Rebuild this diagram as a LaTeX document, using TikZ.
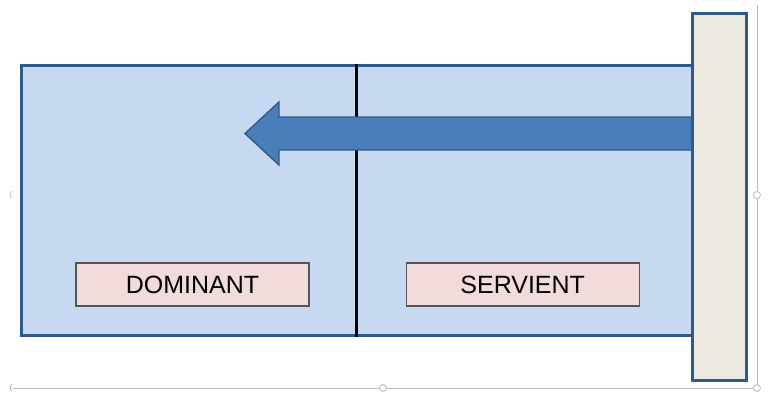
\documentclass[tikz,border=0pt]{standalone}
\usepackage{fontspec}
\setmainfont{Liberation Sans}
\usepackage{xcolor}
\usetikzlibrary{positioning}
\definecolor{bleuclair}{HTML}{C6D9F0}
\definecolor{bleubord}{HTML}{2F5A8C}
\definecolor{bleufleche}{HTML}{4A7EBB}
\definecolor{beige}{HTML}{ECE9E0}
\definecolor{rose}{HTML}{F2DCDB}
\definecolor{grisbord}{HTML}{555555}
\definecolor{poignee}{HTML}{BBBBBB}

\begin{document}
\begin{tikzpicture} [x=1pt, y=-1pt,
            fond/.style={rectangle, draw=bleubord, fill=bleuclair, line width=3pt, minimum width=671pt, minimum height=270pt},
            mur/.style={rectangle, draw=bleubord, fill=beige, line width=3pt, minimum width=54pt, minimum height=367pt},
            etiq/.style={rectangle, draw=grisbord, fill=rose, line width=1.2pt, minimum width=233pt, minimum height=43pt, font=\fontsize{25}{30}\selectfont},
            sel/.style={draw=poignee, line width=0.8pt},]
        \useasboundingbox (0,0) rectangle (768,394);
        % cadre de selection
        \draw[sel] (13,388) -- (757,388) -- (757,5);
        \foreach \p in {(383,388),(757,388),(757,195)}
            \draw[sel, fill=white] \p circle (3.5pt);
        \draw[sel] (12,191) arc (-60:60:-4pt);
        \draw[sel] (12,384) arc (-60:60:-4pt);
        % fonds
        \node[fond](fonds) at (356.5,200) {};
        \draw[line width=3pt] (fonds.north) -- (fonds.south);
        \node[etiq](dom) at (192.5,284.5) {DOMINANT};
        \node[etiq](serv)[right=96pt of dom] {SERVIENT};
        % fleche
        \draw[bleubord, fill=bleufleche, line width=1.4pt]
            (692,117) -- (279,117) -- (279,102) -- (245,133.5) -- (279,165) -- (279,150) -- (692,150) -- cycle;
        % mur
        \node[mur](mur) at (719,196.5) {};
    \end{tikzpicture}
\end{document}
